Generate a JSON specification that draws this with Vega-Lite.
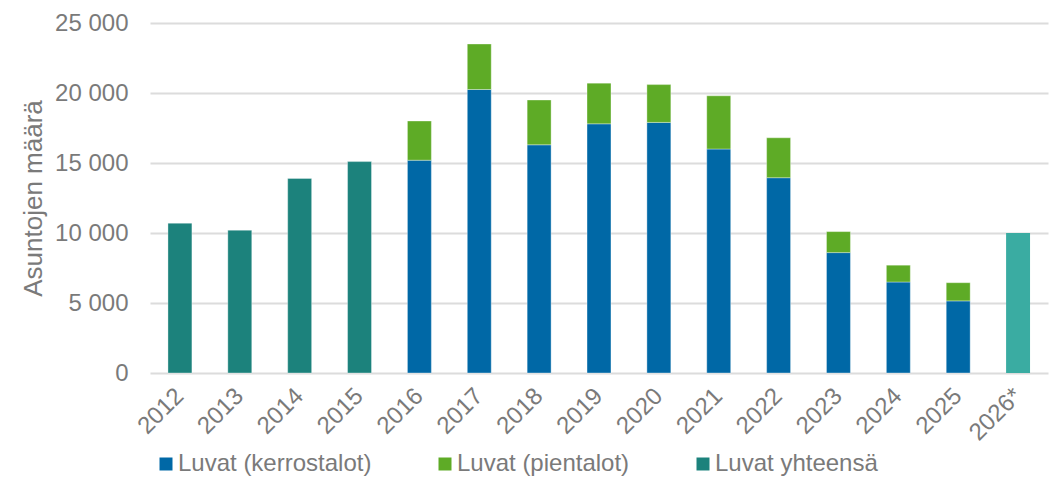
{
  "$schema": "https://vega.github.io/schema/vega-lite/v6.json",
  "autosize": {"type": "none"},
  "width": 898,
  "height": 350,
  "padding": {"left": 150, "top": 23, "right": 16, "bottom": 107},
  "background": "white",
  "config": {
    "font": "Liberation Sans",
    "view": {"stroke": null},
    "locale": {"number": {"decimal": ",", "thousands": " ", "grouping": [3], "currency": ["", " €"]}}
  },
  "data": {
    "values": [
      {"vuosi": "2012", "sarja": "Luvat yhteensä", "arvo": 10700, "ennuste": false},
      {"vuosi": "2013", "sarja": "Luvat yhteensä", "arvo": 10200, "ennuste": false},
      {"vuosi": "2014", "sarja": "Luvat yhteensä", "arvo": 13900, "ennuste": false},
      {"vuosi": "2015", "sarja": "Luvat yhteensä", "arvo": 15100, "ennuste": false},
      {"vuosi": "2016", "sarja": "Luvat (kerrostalot)", "arvo": 15200, "ennuste": false},
      {"vuosi": "2016", "sarja": "Luvat (pientalot)", "arvo": 2800, "ennuste": false},
      {"vuosi": "2017", "sarja": "Luvat (kerrostalot)", "arvo": 20250, "ennuste": false},
      {"vuosi": "2017", "sarja": "Luvat (pientalot)", "arvo": 3250, "ennuste": false},
      {"vuosi": "2018", "sarja": "Luvat (kerrostalot)", "arvo": 16300, "ennuste": false},
      {"vuosi": "2018", "sarja": "Luvat (pientalot)", "arvo": 3200, "ennuste": false},
      {"vuosi": "2019", "sarja": "Luvat (kerrostalot)", "arvo": 17800, "ennuste": false},
      {"vuosi": "2019", "sarja": "Luvat (pientalot)", "arvo": 2900, "ennuste": false},
      {"vuosi": "2020", "sarja": "Luvat (kerrostalot)", "arvo": 17900, "ennuste": false},
      {"vuosi": "2020", "sarja": "Luvat (pientalot)", "arvo": 2700, "ennuste": false},
      {"vuosi": "2021", "sarja": "Luvat (kerrostalot)", "arvo": 16000, "ennuste": false},
      {"vuosi": "2021", "sarja": "Luvat (pientalot)", "arvo": 3800, "ennuste": false},
      {"vuosi": "2022", "sarja": "Luvat (kerrostalot)", "arvo": 13950, "ennuste": false},
      {"vuosi": "2022", "sarja": "Luvat (pientalot)", "arvo": 2850, "ennuste": false},
      {"vuosi": "2023", "sarja": "Luvat (kerrostalot)", "arvo": 8600, "ennuste": false},
      {"vuosi": "2023", "sarja": "Luvat (pientalot)", "arvo": 1500, "ennuste": false},
      {"vuosi": "2024", "sarja": "Luvat (kerrostalot)", "arvo": 6500, "ennuste": false},
      {"vuosi": "2024", "sarja": "Luvat (pientalot)", "arvo": 1200, "ennuste": false},
      {"vuosi": "2025", "sarja": "Luvat (kerrostalot)", "arvo": 5150, "ennuste": false},
      {"vuosi": "2025", "sarja": "Luvat (pientalot)", "arvo": 1300, "ennuste": false},
      {"vuosi": "2026*", "sarja": "Luvat yhteensä", "arvo": 10000, "ennuste": true}
    ]
  },
  "encoding": {
    "x": {
      "field": "vuosi",
      "type": "ordinal",
      "sort": null,
      "scale": {"paddingInner": 0.6, "paddingOuter": 0.3},
      "axis": {
        "title": null,
        "labelAngle": -45,
        "labelAlign": "right",
        "labelBaseline": "middle",
        "labelFontSize": 24,
        "labelColor": "#7a7a7a",
        "labelPadding": 19,
        "ticks": false,
        "domain": false
      }
    },
    "y": {
      "field": "arvo",
      "type": "quantitative",
      "aggregate": "sum",
      "stack": "zero",
      "scale": {"domain": [0, 25000], "nice": false},
      "axis": {
        "title": "Asuntojen määrä",
        "titleFontSize": 26,
        "titleFontWeight": "normal",
        "titleColor": "#7a7a7a",
        "titleAngle": -90,
        "titleAlign": "center",
        "titleBaseline": "middle",
        "titleX": -117,
        "titleY": 175,
        "values": [0, 5000, 10000, 15000, 20000, 25000],
        "format": ",d",
        "labelFontSize": 24,
        "labelColor": "#7a7a7a",
        "labelPadding": 22,
        "ticks": false,
        "domain": false,
        "gridColor": "#dcdcdc",
        "gridWidth": 2
      }
    }
  },
  "layer": [
    {
      "transform": [{"filter": "!datum.ennuste"}],
      "mark": {"type": "bar", "stroke": "#ffffff", "strokeOpacity": 0.35, "strokeWidth": 1},
      "encoding": {
        "order": {"field": "sarja", "type": "nominal", "sort": "ascending"},
        "color": {
          "field": "sarja",
          "type": "nominal",
          "scale": {
            "domain": ["Luvat (kerrostalot)", "Luvat (pientalot)", "Luvat yhteensä"],
            "range": ["#0068a6", "#5eab26", "#1c827c"]
          },
          "legend": {
            "title": null,
            "orient": "none",
            "direction": "horizontal",
            "legendX": 4,
            "legendY": 429,
            "padding": 0,
            "symbolType": "square",
            "symbolSize": 169,
            "symbolStrokeWidth": 0,
            "labelFontSize": 24,
            "labelColor": "#7a7a7a",
            "labelLimit": 400,
            "labelOffset": 0,
            "columnPadding": 61
          }
        }
      }
    },
    {
      "transform": [{"filter": "datum.ennuste"}],
      "mark": {"type": "bar", "color": "#3aaca2"}
    }
  ]
}
